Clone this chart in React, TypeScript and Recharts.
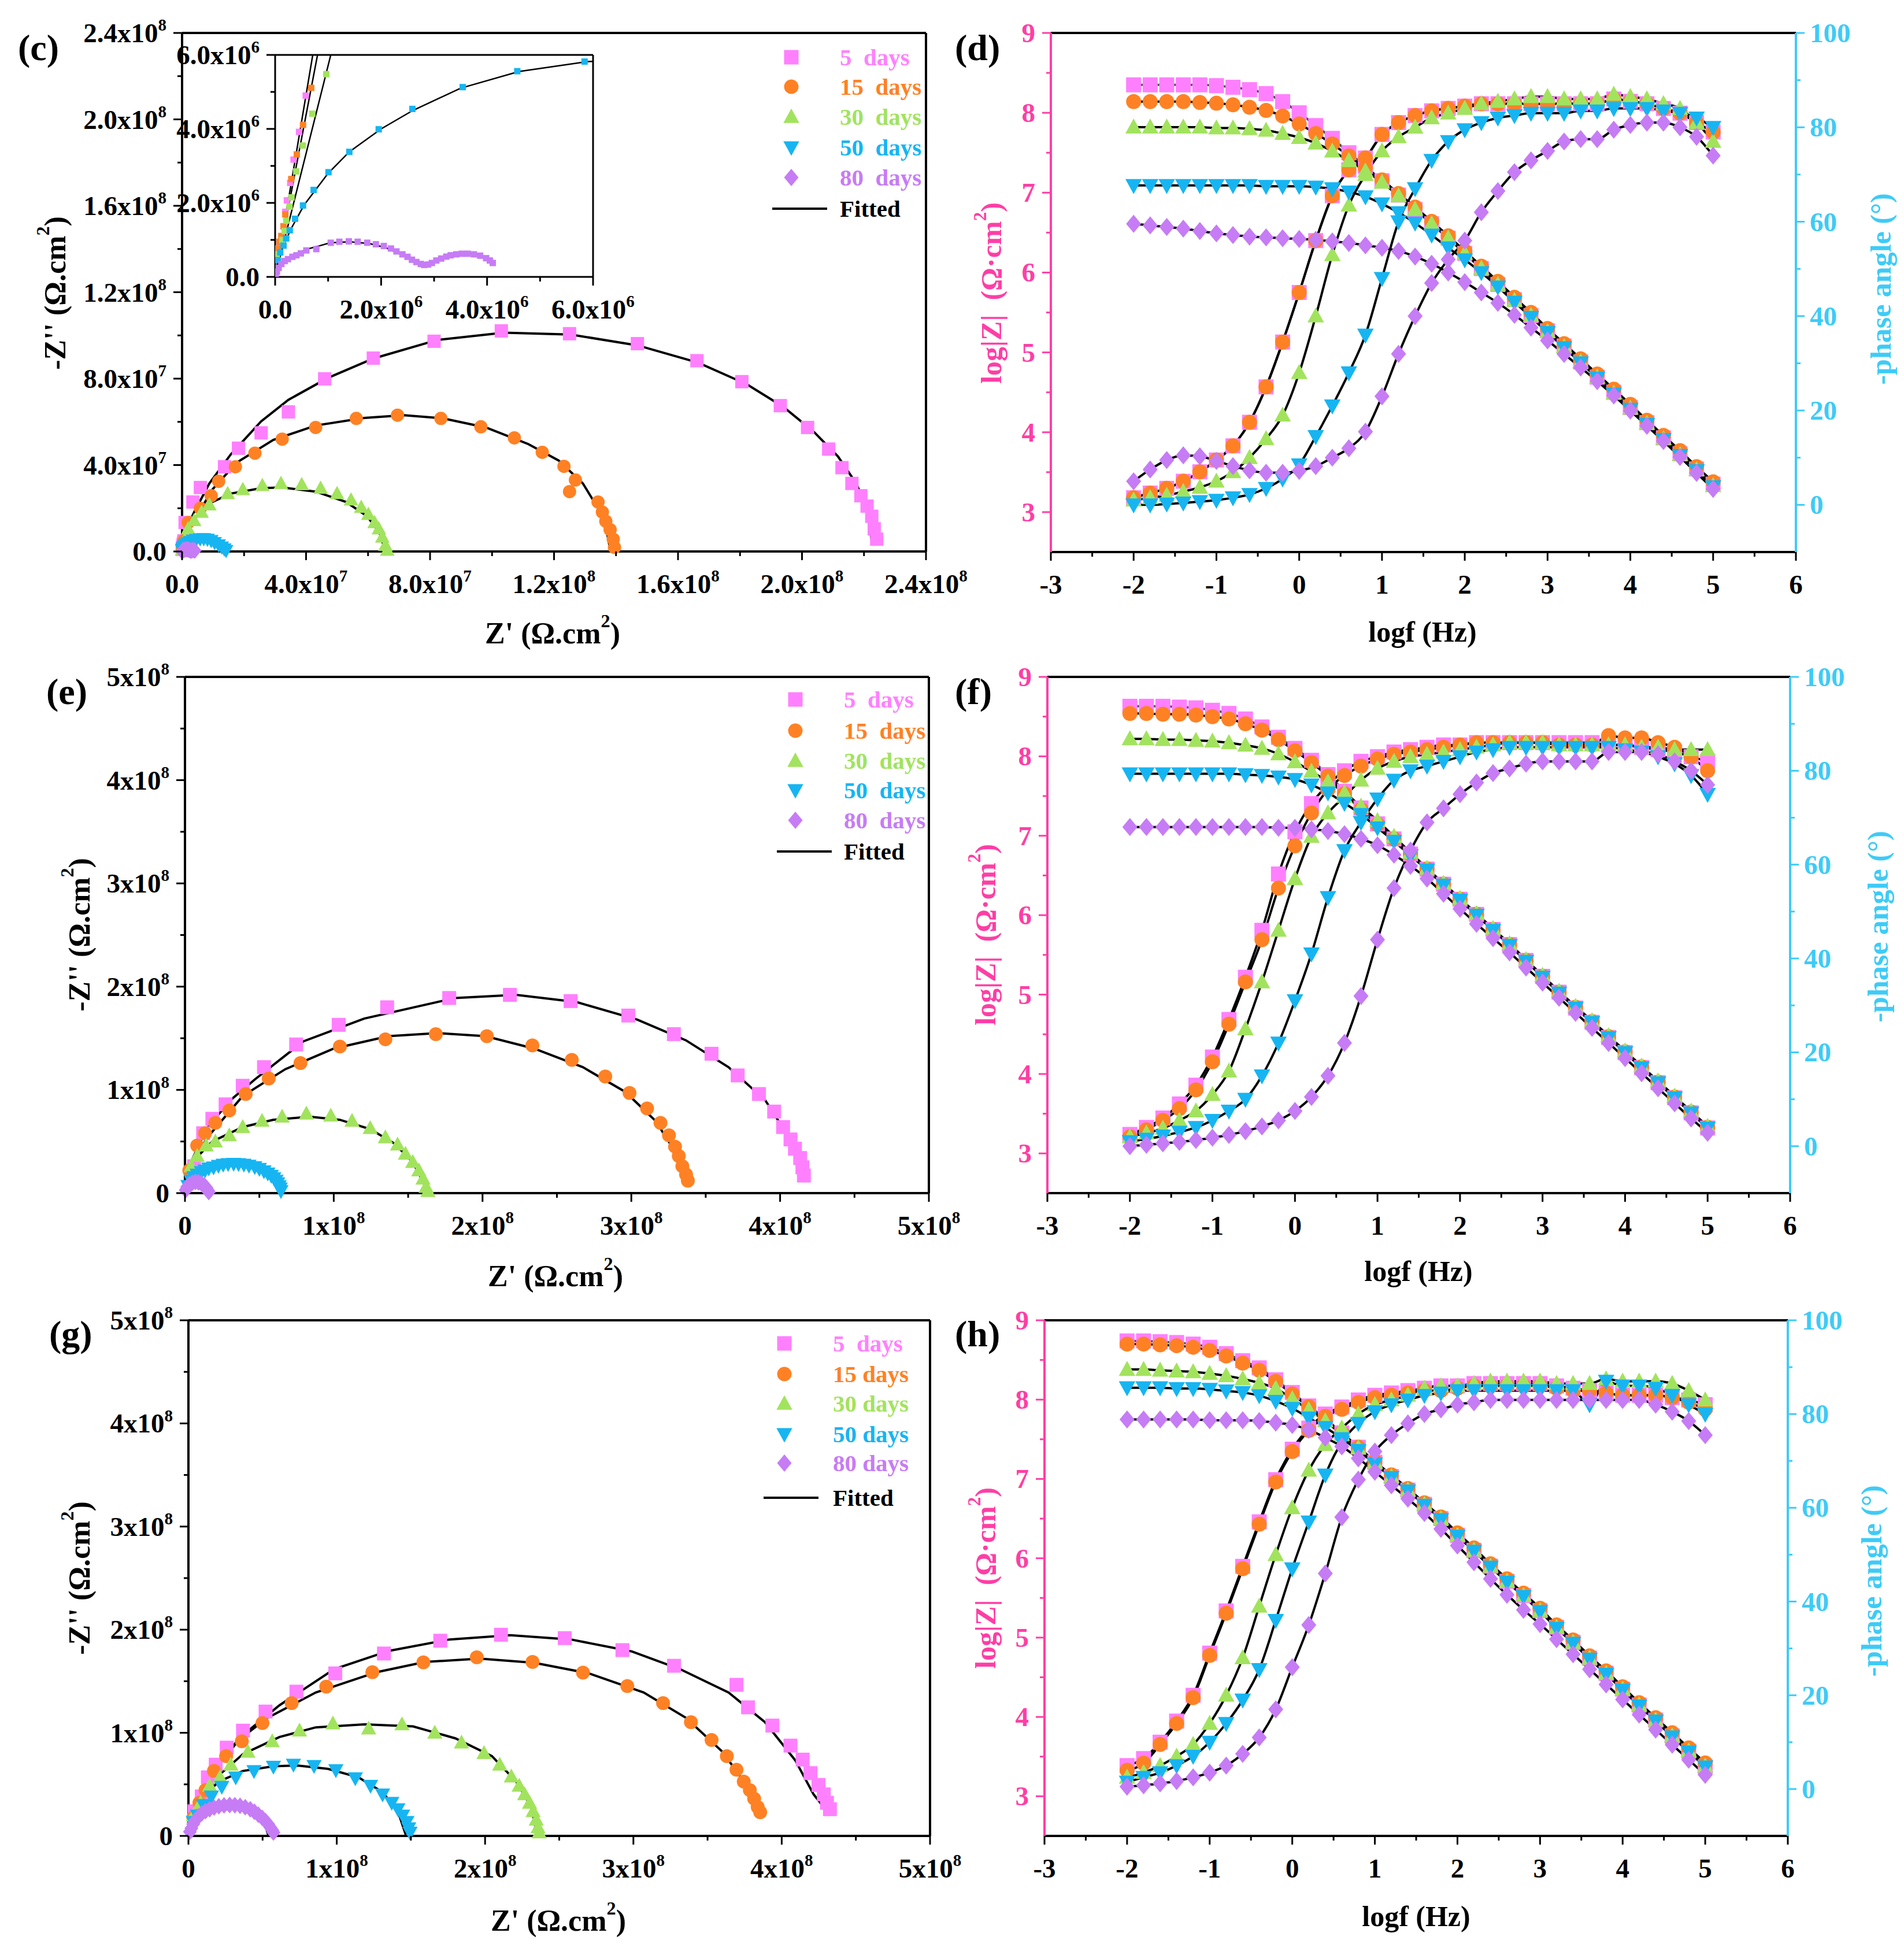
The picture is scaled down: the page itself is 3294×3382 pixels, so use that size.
import React from 'react';
import { ComposedChart, Scatter, Line, XAxis, YAxis, ReferenceLine } from 'recharts';

const FONT = '"Liberation Serif", "Times New Roman", Times, serif';
const PINK = '#FF80FF';
const ORANGE = '#FF8124';
const GREEN = '#A2E35E';
const CYAN = '#16B5F2';
const PURPLE = '#C67CF5';
const AXIS_PINK = '#FF3EA5';
const AXIS_CYAN = '#3DCBF7';

// legend categories
const daysWide = ['5  days', '15  days', '30  days', '50  days', '80  days'];
const daysNarrow = ['5  days', '15 days', '30 days', '50 days', '80 days'];

// ---------- Nyquist (c), values in 10^6 ohm.cm2 ----------
const c5 = [[0.084,0.92],[0.125,1.1],[0.159,1.37],[0.192,1.76],[0.221,2.07],[0.284,2.54],[0.347,3.17],[0.451,3.92],[0.577,4.9],[0.98,13.4],[3.5,22.9],[5.9,29.6],[13.7,39.2],[18.2,47.8],[25.5,54.9],[34.3,64.6],[46,79.9],[61.7,89.5],[81.3,97.3],[103,102.1],[125,100.8],[146.9,96.2],[166.1,88.3],[180.6,78.6],[193,67.5],[201.8,57.4],[208.6,47.4],[212.9,38.8],[216.1,31.5],[219,25.8],[221,21],[222.5,16.3],[223.3,10.5],[224.1,5.7]];
const c5Fit = [[0,0],[0.3,2.5],[0.71,6],[1.5,11],[3.9,18.2],[8.8,31.5],[15.7,44.9],[25.5,60.2],[34.3,70.2],[47,80.3],[61.7,89.3],[82.3,97.9],[103.8,101.3],[125.4,100.4],[146.9,95.4],[166.5,87.4],[182.2,77.4],[194,66.9],[203.8,55.4],[211.6,44],[217.5,31.5],[220.9,20.1],[222.4,5.7]];
const c15 = [[0.054,0.767],[0.084,0.95],[0.117,1.106],[0.159,1.367],[0.192,1.69],[0.305,2.645],[0.409,3.31],[0.526,4.11],[0.681,5.11],[1.96,13.4],[5.9,20],[9.4,25.8],[11.8,32.5],[17.2,39.2],[23.5,45.5],[32.3,52],[43.1,57.4],[56.2,61.6],[69.5,63.1],[83.5,61.6],[96.4,57.7],[107.2,52.6],[116.2,45.9],[123.2,39.4],[126.9,33.1],[125,27.7],[134.2,22.9],[135.6,18.2],[136.7,14],[138.1,10.1],[139.1,5.7],[139.5,1.9]];
const c15Fit = [[0,0],[0.8,6],[1.8,10.5],[3.9,14.3],[9.8,28.7],[17.6,41.1],[29.4,51.6],[43.1,58.3],[58.8,61.8],[71.5,63.1],[84.2,61.6],[98,57.4],[111.7,49.7],[121.5,42.1],[129.3,31.5],[134.2,20],[137.1,8.6],[138.1,1]];
const c30 = [[0.033,0.61],[0.138,1.0],[0.18,1.24],[0.209,1.52],[0.272,1.9],[0.309,2.15],[0.397,2.85],[0.522,3.55],[0.702,4.41],[0.965,5.48],[1.96,10.5],[3.9,14.3],[6.3,18.2],[8.8,21.6],[14.7,26.8],[19.6,28.7],[25.9,30.6],[31.9,31.5],[38.6,31],[44.7,29.3],[50,26.8],[54.5,23.9],[57.8,20.5],[60.1,17.2],[62.1,13.4],[63.5,10.5],[64.6,6.7],[65.6,2.9],[66.2,0.6]];
const c30Fit = [[0,0],[1.05,6],[2.9,13.4],[7.8,21.6],[15.7,26.8],[25.5,29.3],[32.3,29.6],[43.1,27.7],[52.9,22.9],[59.7,16.3],[63.7,8.6],[65.4,1]];
const c50 = [[0.054,0.454],[0.096,0.66],[0.159,0.845],[0.209,1.04],[0.276,1.26],[0.376,1.57],[0.526,1.93],[0.727,2.35],[1.007,2.83],[1.4,3.38],[1.955,3.99],[2.59,4.54],[3.54,5.13],[4.57,5.56],[5.84,5.82],[7.0,5.9],[8.2,5.6],[9.4,5.0],[10.5,4.1],[11.8,3.0],[12.8,2.0],[13.6,1.1],[14.2,0.4]];
const c50Fit = [[0,0],[0.05,0.4],[0.15,0.82],[0.3,1.3],[0.55,1.95],[1.0,2.8],[1.4,3.38],[2.0,4.0],[2.6,4.5],[3.5,5.1],[4.6,5.55],[5.9,5.82],[7.0,5.85],[8.2,5.55],[9.4,4.95],[10.5,4.0],[11.5,2.9],[12.4,1.8],[13.0,0.9],[13.3,0.2]];
const c80 = [[0.0125,0.0365],[0.033,0.141],[0.067,0.245],[0.117,0.35],[0.18,0.428],[0.242,0.48],[0.326,0.543],[0.401,0.584],[0.485,0.636],[0.589,0.715],[0.777,0.751],[1.049,0.923],[1.212,0.95],[1.391,0.96],[1.558,0.95],[1.738,0.923],[1.901,0.882],[2.051,0.835],[2.185,0.767],[2.29,0.689],[2.402,0.61],[2.498,0.543],[2.582,0.464],[2.666,0.402],[2.749,0.35],[2.812,0.323],[2.887,0.334],[2.958,0.376],[3.042,0.443],[3.134,0.496],[3.23,0.548],[3.313,0.584],[3.418,0.61],[3.522,0.626],[3.635,0.626],[3.752,0.61],[3.869,0.574],[3.982,0.506],[4.053,0.443],[4.107,0.376]];
const c80Fit = [[0,0],[0.054,0.193],[0.159,0.376],[0.326,0.558],[0.577,0.741],[0.785,0.819],[1.036,0.923],[1.412,0.95],[1.788,0.897],[2.081,0.793],[2.331,0.636],[2.54,0.48],[2.749,0.339],[2.854,0.297],[2.958,0.35],[3.125,0.48],[3.334,0.61],[3.585,0.647],[3.794,0.61],[4.003,0.506],[4.128,0.391]];

// ---------- Nyquist (e) ----------
const e5 = [[6.1,26],[12.2,58],[18.4,72],[27.3,86],[38.8,104],[53.1,122],[74.7,144],[103.3,163],[135.9,180],[177.6,189],[218.4,192],[259.2,186],[298,172],[328.6,154],[353.9,135],[371.5,114],[385.8,96],[396,79],[402,64],[407,52],[410,43],[413.5,34],[415,25],[416,17]];
const e5Fit = [[0,0],[5.3,34],[14.3,62],[30.6,90],[46.9,110],[79.6,147],[120.4,169],[181.6,189],[222.5,192],[263.3,185],[304,168],[336.7,148],[365.3,122],[390,90],[406,54],[414,18]];
const e15 = [[2.9,22],[8.2,46],[13.5,58],[20.4,68],[29.8,80],[40.8,96],[56.3,111],[77.6,126],[104.1,142],[134.7,149],[168.6,154],[202.9,152],[233.5,143],[260,129],[282.5,113],[298.8,97],[310.6,82],[319.6,68],[325.3,56],[329.4,45],[331.9,36],[334.3,26],[336.8,18],[338,12]];
const e15Fit = [[0,0],[6.1,34],[16.3,56],[38.8,94],[67.4,120],[100,140],[136.7,152],[169.4,155],[202,152],[234.7,140],[267.4,122],[296,98],[316.3,70],[328.6,42],[336,12]];
const e30 = [[4.1,26],[8.2,36],[14.3,46],[20.4,50],[29.8,56],[38.8,64],[51.8,70],[65.3,74],[81.6,77],[98,75],[112.3,70],[124.5,63],[134.7,54],[142.9,47],[148.2,38],[153.1,30],[157.2,22],[160,14],[162.1,6],[163.3,2]];
const e30Fit = [[0,0],[6.1,32],[18.4,50],[38.8,64],[59.2,71],[83.7,74],[104.1,71],[124.5,62],[140.8,48],[153.1,30],[160.4,10],[162.1,2]];
const e50 = [[2,7],[4.1,12],[6,15.5],[8.2,18],[11,20.5],[13.5,22],[16,24],[19.2,25],[22.5,26.5],[25.7,27.6],[29,28.2],[32.7,28.4],[36,28.2],[39.6,27.6],[43,26.6],[46.9,25.2],[50,23.5],[53.1,21.2],[55.7,19],[58,16.8],[59.7,14.5],[61.2,12],[62.3,9.5],[63.3,6.8],[64,4.5],[64.5,2]];
const e50Fit = [[0,0],[3,10],[8,17],[15,23],[22,26.5],[30.6,28],[38,27.5],[46,25],[53,20.5],[58,15],[61,9],[62.5,2]];
const e80 = [[0.5,3],[1.5,6],[3,8.5],[5,10],[7,10.8],[9,10.5],[11,9.5],[13,7.5],[14.5,5],[15.5,2.5],[16,1]];
const e80Fit = [[0,0],[2,4],[4,5.6],[6,6],[8,5.6],[10,4.4],[12,2.6],[13.5,0.5]];

// ---------- Nyquist (g) ----------
const g5 = [[4.1,23.9],[9,38.3],[13.1,56.8],[18.4,69.1],[25.8,85.6],[36.8,102.1],[52,120.6],[72.8,139.9],[99,157.6],[131.8,176.9],[169.8,189.3],[210.7,195.1],[253.7,191.8],[292.6,180.2],[327.4,165],[369.5,146.5],[377.3,124.7],[393.7,107],[405.9,87.6],[414.1,74],[419.4,60.9],[424.8,49.4],[428.4,40.3],[430.5,32.1],[432.5,25.9]];
const g5Fit = [[0,0],[8.2,38.3],[20.5,69.1],[36.8,97.9],[61.4,126.7],[98.2,161.7],[135,179.4],[176,190.5],[216.9,194.6],[257.8,190.5],[298.7,179],[331.5,161.7],[364.2,139.1],[388.7,110.3],[409.2,73.2],[421.5,40.3],[430.5,23.9]];
const g15 = [[3.3,17.7],[7.4,32.1],[11.5,44.4],[17.2,63],[25.4,77.4],[36,91.8],[49.9,109.5],[69.6,128.8],[92.9,144.8],[124,158.8],[158.4,168.3],[194.4,173.2],[232,168.7],[266,158.4],[295.9,145.3],[320,128.8],[338.8,110.3],[352.7,93],[363,77.4],[369.5,64.2],[374.4,52.7],[378.5,44.4],[381.4,36.2],[383.8,28],[385.5,23]];
const g15Fit = [[0,0],[6.1,34.2],[16.4,63],[32.7,91.8],[53.2,114.4],[85.9,139.1],[126.9,158.8],[159.6,168.7],[196.4,172],[233.2,167.9],[270.1,157.6],[306.9,139.1],[335.5,114.4],[360.1,81.5],[376.5,48.6],[385.5,19.8]];
const g30 = [[3.3,19.8],[8.2,32.1],[14.3,48.6],[21.3,56.8],[28.6,69.1],[40.1,81.5],[56.5,91.8],[74.9,102.1],[97.4,109],[121.5,104.1],[144,108.2],[166.1,100],[184.1,90.5],[199.3,80.2],[209.9,69.1],[217.7,57.6],[223,48.6],[226.7,40.3],[230,32.1],[232.4,23.9],[234.5,15.6],[235.7,8.2],[236.5,3.3]];
const g30Fit = [[0,0],[8.2,34.2],[20.5,58.8],[36.8,79.4],[61.4,95.9],[85.9,105.3],[118.7,108.2],[151.4,106.2],[180,94.6],[204.6,77.4],[221,52.7],[231.2,28],[234.5,5.3]];
const g50 = [[3.3,13.6],[6.1,19.8],[10.2,30],[15.5,38.3],[22.5,47.7],[31.9,56.8],[44.2,63],[57.3,67.1],[70.8,69.1],[84.7,67.9],[99.4,63.8],[112.5,56],[122.8,48.6],[130.9,40.3],[137.1,32.1],[141.2,25.9],[144.4,19.8],[147.3,13.6],[148.5,7.4],[149.4,3.3]];
const g50Fit = [[0,0],[8.2,36.2],[20.5,52.7],[36.8,63],[57.3,67.5],[73.7,68.3],[94.1,65],[114.6,56.8],[130.9,42.4],[141.2,23.9],[146.5,1.2]];
const g80 = [[1,4],[2,7.4],[3.2,11.5],[4.9,15.6],[6.8,18.8],[9,21.8],[11.5,24],[14.3,25.9],[17.3,27.5],[20.5,28.8],[24,29.6],[27.8,30],[31.3,29.8],[34.8,29.2],[38.3,27.8],[41.7,25.9],[44.5,23.4],[47.1,20.6],[49.7,17.6],[52,14.4],[53.8,11.3],[55.2,8.2],[56.5,5.6],[57.3,3.3]];
const g80Fit = [[0,0],[4.1,13.6],[12.3,21.8],[24.6,25.9],[32.7,25.9],[40.9,23],[47.1,16.5],[52.4,7.4],[54,0]];

// ---------- Bode, shared frequency grid ----------
const logF = [-2,-1.8,-1.6,-1.4,-1.2,-1,-0.8,-0.6,-0.4,-0.2,0,0.2,0.4,0.6,0.8,1,1.2,1.4,1.6,1.8,2,2.2,2.4,2.6,2.8,3,3.2,3.4,3.6,3.8,4,4.2,4.4,4.6,4.8,5];

// (d)
const dZ5 = [8.35,8.35,8.35,8.35,8.35,8.34,8.32,8.29,8.24,8.14,8.0,7.84,7.68,7.50,7.33,7.15,6.97,6.79,6.61,6.43,6.24,6.05,5.85,5.66,5.46,5.27,5.08,4.88,4.69,4.50,4.31,4.12,3.93,3.73,3.54,3.35];
const dZ15 = [8.14,8.14,8.14,8.14,8.13,8.12,8.10,8.07,8.03,7.96,7.86,7.74,7.61,7.46,7.31,7.16,6.99,6.82,6.64,6.46,6.27,6.08,5.89,5.69,5.50,5.30,5.11,4.92,4.73,4.54,4.35,4.15,3.96,3.77,3.57,3.38];
const dZ30 = [7.82,7.82,7.82,7.82,7.82,7.81,7.81,7.80,7.78,7.74,7.69,7.62,7.52,7.40,7.27,7.13,6.96,6.79,6.61,6.43,6.24,6.05,5.85,5.65,5.46,5.26,5.07,4.88,4.69,4.49,4.30,4.11,3.92,3.72,3.53,3.33];
const dZ50 = [7.09,7.09,7.09,7.09,7.09,7.09,7.09,7.09,7.08,7.08,7.08,7.07,7.05,7.01,6.95,6.86,6.75,6.62,6.47,6.31,6.16,6.00,5.82,5.63,5.44,5.25,5.06,4.87,4.68,4.48,4.29,4.10,3.91,3.71,3.52,3.32];
const dZ80 = [6.61,6.59,6.57,6.55,6.52,6.49,6.47,6.45,6.44,6.43,6.42,6.41,6.39,6.37,6.34,6.31,6.27,6.20,6.11,6.00,5.88,5.75,5.62,5.47,5.31,5.15,4.98,4.81,4.64,4.46,4.27,4.08,3.89,3.69,3.49,3.29];
const dP5 = [1.5,2.5,3.5,5,7,9.5,12.5,17.5,25,34.5,45,56,65.5,71,73.5,78.5,81,82.5,83.5,84,84.5,85,85,85,85,85,85,85,85,86,85.5,85,84,83,81,79];
const dP15 = [1.5,2.5,3.5,5,7,9.5,12.5,17.5,25,34.5,45,56,65.5,71,73.5,78.5,81,82.5,83.5,84,84.5,85,85,85,85,85,85,85,85,86,85.5,85,84,83,81,79];
const dP30 = [1,1.5,2,2.8,3.7,5,7,10,14,19,28,40,53,63.5,70,75,78,80,82,83,84,85,85.5,86,86.5,86.5,86,86,86,87,86.5,86,85,84,81,77];
const dP50 = [0,0,0.2,0.4,0.7,1,1.5,2.2,3.5,5.5,8.5,14.5,21,28,36,48,60,67,73,77,79.5,81,82,82.5,83,83,83,83.5,83.5,84,84,84,83.5,83,82,80];
const dP80 = [5,7.5,9.5,10.5,10.3,9.3,8.2,7.3,6.8,6.8,7.2,8.2,10,12,15.5,23,32,40,47,52,56,62,66.5,70.5,73,75,77,77.5,77.5,79.5,80.5,81,81,80,78,74];

// (f)
const fZ5 = [8.63,8.63,8.63,8.62,8.61,8.58,8.54,8.47,8.37,8.24,8.10,7.95,7.77,7.56,7.35,7.15,6.96,6.77,6.58,6.39,6.20,6.01,5.82,5.63,5.43,5.23,5.03,4.83,4.65,4.46,4.27,4.08,3.89,3.70,3.51,3.32];
const fZ15 = [8.54,8.54,8.53,8.53,8.52,8.50,8.47,8.41,8.33,8.21,8.07,7.92,7.75,7.53,7.33,7.14,6.96,6.77,6.58,6.39,6.20,6.01,5.82,5.63,5.43,5.23,5.03,4.84,4.66,4.47,4.28,4.09,3.90,3.71,3.52,3.33];
const fZ30 = [8.22,8.22,8.21,8.21,8.20,8.19,8.17,8.14,8.10,8.03,7.93,7.81,7.68,7.54,7.37,7.19,6.99,6.79,6.59,6.40,6.21,6.02,5.83,5.64,5.44,5.24,5.04,4.85,4.67,4.48,4.29,4.10,3.91,3.72,3.53,3.34];
const fZ50 = [7.78,7.78,7.78,7.78,7.78,7.78,7.78,7.77,7.76,7.74,7.71,7.64,7.54,7.41,7.27,7.10,6.93,6.75,6.57,6.38,6.19,6.00,5.81,5.62,5.42,5.22,5.02,4.83,4.65,4.46,4.27,4.08,3.89,3.70,3.51,3.32];
const fZ80 = [7.11,7.11,7.11,7.11,7.11,7.11,7.11,7.11,7.11,7.10,7.10,7.08,7.06,7.02,6.96,6.88,6.76,6.62,6.46,6.27,6.08,5.89,5.71,5.53,5.34,5.15,4.96,4.77,4.58,4.39,4.20,4.01,3.82,3.63,3.44,3.26];
const fP5 = [2.5,4,6,9,13,19,27,36,46,58,67,73,77,80,82,83,84,84.5,85,85.5,85.5,86,86,86,86,86,86,86,86,85.5,85.5,85,84.5,84,83,82];
const fP15 = [2,3.5,5.5,8,12,18,26,35,44,55,64,71,76,79,81,82.5,83.5,84,84.5,85,85.5,86,86,86,86,86,85.5,85.5,85.5,87.5,87,87,86,85,83,80];
const fP30 = [2,2.8,3.8,5.5,7.5,11,16,25,35,46,57,66,71,74.5,78,80.5,82,83,83.5,84,84.5,85,85.5,86,86,86,85.5,85.5,85.5,85.5,85.5,85,85,84.5,84.5,84.5];
const fP50 = [1,1.5,2.2,3,4,5.5,7.5,10,15,22,31,41,53,63,69,74,78,80,81,82,83,84,84.5,85,85,85,85,85,85,85,84.5,84,83,81.5,79,75];
const fP80 = [0,0.3,0.6,0.9,1.3,1.8,2.4,3.2,4.2,5.5,7.5,10.5,15,22,32,44,55,63,69,72,75,77.5,79.5,80.5,81.5,82,82,82,82,84,84,84,83.5,82,80,77];

// (h)
const hZ5 = [8.74,8.74,8.73,8.72,8.70,8.66,8.58,8.49,8.40,8.25,8.09,7.92,7.76,7.58,7.40,7.21,7.03,6.86,6.68,6.50,6.29,6.10,5.90,5.71,5.53,5.34,5.13,4.94,4.74,4.55,4.35,4.15,3.96,3.76,3.57,3.37];
const hZ15 = [8.70,8.70,8.69,8.68,8.66,8.62,8.55,8.46,8.37,8.23,8.07,7.91,7.75,7.58,7.40,7.22,7.05,6.88,6.70,6.52,6.32,6.13,5.93,5.74,5.56,5.37,5.16,4.97,4.77,4.58,4.38,4.18,3.99,3.80,3.61,3.42];
const hZ30 = [8.38,8.38,8.37,8.36,8.35,8.33,8.30,8.26,8.21,8.14,8.01,7.87,7.73,7.56,7.39,7.21,7.03,6.86,6.68,6.50,6.29,6.10,5.90,5.71,5.53,5.34,5.13,4.94,4.74,4.55,4.35,4.15,3.96,3.76,3.57,3.38];
const hZ50 = [8.15,8.15,8.15,8.14,8.14,8.13,8.11,8.09,8.05,7.98,7.89,7.77,7.65,7.51,7.36,7.19,7.02,6.85,6.67,6.49,6.28,6.09,5.89,5.70,5.52,5.33,5.12,4.93,4.73,4.54,4.34,4.14,3.95,3.75,3.56,3.37];
const hZ80 = [7.75,7.75,7.75,7.75,7.75,7.74,7.74,7.74,7.73,7.71,7.68,7.62,7.52,7.41,7.26,7.09,6.92,6.75,6.57,6.37,6.16,5.95,5.74,5.54,5.35,5.17,4.98,4.79,4.60,4.41,4.22,4.03,3.84,3.65,3.46,3.27];
const hP5 = [5,6.5,10,14.5,20,29,38,47.5,57,66,72.5,77,80,81.5,83,84,84.5,85,85.5,86,86,86.5,86.5,86.5,86.5,86.5,86,85.5,85,84.5,84,84,84,83.5,83,82];
const hP15 = [4,5.5,9.5,14,19.5,28.5,37.5,47,56.5,65.5,72,76.5,79.5,81,82.5,83.5,84,84.5,85,85,85.5,86,86,86,86,86,85.5,85,85,84.5,84,84,84,83.5,82.5,81];
const hP30 = [2.5,3.5,5,7,9.5,14,20,28,39,50,60,68,73.5,77,80,82,83,84,85.5,86,86,86.5,87,87,87,87,86.5,86.5,86.5,87.5,87,87,87,86.5,85,83];
const hP50 = [1.5,2.5,3.5,5,7,10,14,19,25.5,36,47,57,67,74,78,80.5,82,83,84,84.5,85,85,85,85,85,85,85,85,82,87,86,86,85.5,84,82,80];
const hP80 = [0.5,0.8,1.2,1.7,2.5,3.5,5,7.5,11,17,26,35,46,58,66,72,75.5,78,80,81,82,82.5,83,83,83,83,83,83,83,83,83,83,82,80.5,78.5,75.5];

// ---------- ticks ----------
const cMajor = [0, 40, 80, 120, 160, 200, 240];
const cMinor = [20, 60, 100, 140, 180, 220];
const cLabels = [['0.0', ''], ['4.0x10', '7'], ['8.0x10', '7'], ['1.2x10', '8'], ['1.6x10', '8'], ['2.0x10', '8'], ['2.4x10', '8']];
const egMajor = [0, 100, 200, 300, 400, 500];
const egMinor = [50, 150, 250, 350, 450];
const egLabels = [['0', ''], ['1x10', '8'], ['2x10', '8'], ['3x10', '8'], ['4x10', '8'], ['5x10', '8']];
const insMajor = [0, 2, 4, 6];
const insMinor = [1, 3, 5];
const insLabels = [['0.0', ''], ['2.0x10', '6'], ['4.0x10', '6'], ['6.0x10', '6']];
const fMajor = [-3, -2, -1, 0, 1, 2, 3, 4, 5, 6];
const fMinor = [-2.5, -1.5, -0.5, 0.5, 1.5, 2.5, 3.5, 4.5, 5.5];
const fLabels = fMajor.map((v) => [String(v), '']);
const zMajor = [3, 4, 5, 6, 7, 8, 9];
const zMinor = [3.5, 4.5, 5.5, 6.5, 7.5, 8.5];
const zLabels = zMajor.map((v) => [String(v), '']);
const pMajor = [0, 20, 40, 60, 80, 100];
const pMinor = [10, 30, 50, 70, 90];
const pLabels = pMajor.map((v) => [String(v), '']);

const STYLE = [
  { color: PINK, kind: 'square' },
  { color: ORANGE, kind: 'circle' },
  { color: GREEN, kind: 'up' },
  { color: CYAN, kind: 'down' },
  { color: PURPLE, kind: 'diamond' },
];

const toPts = (arr: number[][]) => arr.map(([x, y]) => ({ x, y }));
const bodePts = (vals: number[]) => logF.map((x, i) => ({ x, y: vals[i] }));

function Marker({ cx, cy, kind, color, size }: any) {
  if (cx == null || cy == null) return null;
  const h = size / 2;
  if (kind === 'square') return <rect x={cx - h} y={cy - h} width={size} height={size} fill={color} />;
  if (kind === 'circle') return <circle cx={cx} cy={cy} r={h} fill={color} />;
  if (kind === 'up')
    return <polygon points={`${cx},${cy - h * 1.15} ${cx + h * 1.1},${cy + h * 0.85} ${cx - h * 1.1},${cy + h * 0.85}`} fill={color} />;
  if (kind === 'down')
    return <polygon points={`${cx},${cy + h * 1.15} ${cx + h * 1.1},${cy - h * 0.85} ${cx - h * 1.1},${cy - h * 0.85}`} fill={color} />;
  return <polygon points={`${cx},${cy - h * 1.2} ${cx + h},${cy} ${cx},${cy + h * 1.2} ${cx - h},${cy}`} fill={color} />;
}

function SciText({ x, y, label, anchor, color, size }: any) {
  return (
    <text x={x} y={y} textAnchor={anchor} fill={color} fontFamily={FONT} fontWeight="bold" fontSize={size}>
      <tspan>{label[0]}</tspan>
      {label[1] ? <tspan dy={-size * 0.42} fontSize={size * 0.62}>{label[1]}</tspan> : null}
    </text>
  );
}

const makeTick = (side: string, majors: number[], labels: string[][], color: string, size = 47) => (props: any) => {
  const { x, y, payload } = props;
  const i = majors.findIndex((m) => Math.abs(m - payload.value) < 1e-6);
  const len = i >= 0 ? 15 : 8;
  if (side === 'left')
    return (
      <g>
        <line x1={x - len} y1={y} x2={x} y2={y} stroke={color} strokeWidth={3} />
        {i >= 0 && <SciText x={x - 27} y={y + 16} anchor="end" label={labels[i]} color={color} size={size} />}
      </g>
    );
  if (side === 'right')
    return (
      <g>
        <line x1={x} y1={y} x2={x + len} y2={y} stroke={color} strokeWidth={3} />
        {i >= 0 && <SciText x={x + 24} y={y + 16} anchor="start" label={labels[i]} color={color} size={size} />}
      </g>
    );
  return (
    <g>
      <line x1={x} y1={y} x2={x} y2={y + len} stroke={color} strokeWidth={3} />
      {i >= 0 && <SciText x={x} y={y + 72} anchor="middle" label={labels[i]} color={color} size={size} />}
    </g>
  );
};

const N_LM = 330, N_TM = 60, N_RM = 90, N_BM = 140;

function NyquistChart({ plot, max, major, minor, labels, points, fits, size, lineW, squares, clip, axisW }: any) {
  const ticks = [...major, ...minor].sort((a: number, b: number) => a - b);
  return (
    <div style={{ position: 'absolute', left: plot.x - N_LM, top: plot.y - N_TM }}>
      <ComposedChart width={plot.w + N_LM + N_RM} height={plot.h + N_TM + N_BM} margin={{ top: N_TM, right: N_RM, bottom: 0, left: 0 }}>
        <XAxis type="number" dataKey="x" domain={[0, max]} ticks={ticks} interval={0} height={N_BM} tickSize={0} tickMargin={0}
          tickLine={false} axisLine={{ stroke: '#000', strokeWidth: axisW }} tick={makeTick('bottom', major, labels, '#000')} allowDataOverflow={clip} />
        <YAxis type="number" dataKey="y" domain={[0, max]} ticks={ticks} interval={0} width={N_LM} tickSize={0} tickMargin={0}
          tickLine={false} axisLine={{ stroke: '#000', strokeWidth: axisW }} tick={makeTick('left', major, labels, '#000')} allowDataOverflow={clip} />
        <ReferenceLine y={max} stroke="#000" strokeWidth={axisW} />
        <ReferenceLine x={max} stroke="#000" strokeWidth={axisW} />
        {points.map((arr: number[][], i: number) => (
          <Scatter key={'s' + i} data={toPts(arr)} dataKey="y" isAnimationActive={false}
            shape={(p: any) => <Marker cx={p.cx} cy={p.cy} kind={squares ? 'square' : STYLE[i].kind} color={STYLE[i].color} size={size} />} />
        ))}
        {fits.map((arr: number[][], i: number) => (
          <Line key={'l' + i} data={toPts(arr)} dataKey="y" type="linear" stroke="#000" strokeWidth={lineW} dot={false} activeDot={false} isAnimationActive={false} />
        ))}
      </ComposedChart>
    </div>
  );
}

const B_LM = 330, B_RM = 230, B_TM = 60, B_BM = 140;
const BODE_MARK = 26;

function BodeChart({ plot, zs, ps }: any) {
  const xt = [...fMajor, ...fMinor].sort((a, b) => a - b);
  const zt = [...zMajor, ...zMinor].sort((a, b) => a - b);
  const pt = [...pMajor, ...pMinor].sort((a, b) => a - b);
  return (
    <div style={{ position: 'absolute', left: plot.x - B_LM, top: plot.y - B_TM }}>
      <ComposedChart width={plot.w + B_LM + B_RM} height={plot.h + B_TM + B_BM} margin={{ top: B_TM, right: 0, bottom: 0, left: 0 }}>
        <XAxis type="number" dataKey="x" domain={[-3, 6]} ticks={xt} interval={0} height={B_BM} tickSize={0} tickMargin={0}
          tickLine={false} axisLine={{ stroke: '#000', strokeWidth: 4 }} tick={makeTick('bottom', fMajor, fLabels, '#000')} />
        <YAxis yAxisId="z" type="number" dataKey="y" domain={[2.5, 9]} ticks={zt} interval={0} width={B_LM} tickSize={0} tickMargin={0}
          tickLine={false} axisLine={{ stroke: AXIS_PINK, strokeWidth: 4 }} tick={makeTick('left', zMajor, zLabels, AXIS_PINK)} />
        <YAxis yAxisId="p" orientation="right" type="number" dataKey="y" domain={[-10, 100]} ticks={pt} interval={0} width={B_RM} tickSize={0} tickMargin={0}
          tickLine={false} axisLine={{ stroke: AXIS_CYAN, strokeWidth: 4 }} tick={makeTick('right', pMajor, pLabels, AXIS_CYAN)} />
        <ReferenceLine yAxisId="z" y={9} stroke="#000" strokeWidth={4} />
        {zs.map((vals: number[], i: number) => [
          <Scatter key={'z' + i} yAxisId="z" data={bodePts(vals)} dataKey="y" isAnimationActive={false}
            shape={(p: any) => <Marker cx={p.cx} cy={p.cy} kind={STYLE[i].kind} color={STYLE[i].color} size={BODE_MARK} />} />,
          <Scatter key={'p' + i} yAxisId="p" data={bodePts(ps[i])} dataKey="y" isAnimationActive={false}
            shape={(p: any) => <Marker cx={p.cx} cy={p.cy} kind={STYLE[i].kind} color={STYLE[i].color} size={BODE_MARK} />} />,
        ])}
        {zs.map((vals: number[], i: number) => [
          <Line key={'lz' + i} yAxisId="z" data={bodePts(vals)} dataKey="y" type="monotone" stroke={i === 0 ? '#4d4d4d' : '#000'} strokeWidth={4} dot={false} activeDot={false} isAnimationActive={false} />,
          <Line key={'lp' + i} yAxisId="p" data={bodePts(ps[i])} dataKey="y" type="monotone" stroke="#000" strokeWidth={4} dot={false} activeDot={false} isAnimationActive={false} />,
        ])}
      </ComposedChart>
    </div>
  );
}

function Title({ x, y, rotate, color = '#000', parts, size = 50 }: any) {
  return (
    <text x={x} y={y} textAnchor="middle" dominantBaseline="central" fill={color} fontFamily={FONT} fontWeight="bold" fontSize={size}
      style={{ whiteSpace: 'pre' }} transform={rotate ? `rotate(-90 ${x} ${y})` : undefined}>
      <tspan>{parts[0]}</tspan>
      {parts[1] ? <tspan dy={-size * 0.4} fontSize={size * 0.62}>{parts[1]}</tspan> : null}
      {parts[2] ? <tspan dy={size * 0.4}>{parts[2]}</tspan> : null}
    </text>
  );
}

function LegendBlock({ mx, tx, rows, labels, lx1, lx2 }: any) {
  return (
    <g>
      {labels.map((lab: string, i: number) => (
        <g key={i}>
          <Marker cx={mx} cy={rows[i]} kind={STYLE[i].kind} color={STYLE[i].color} size={25} />
          <text x={tx} y={rows[i]} dominantBaseline="central" fill={STYLE[i].color} fontFamily={FONT} fontWeight="bold" fontSize={41} style={{ whiteSpace: 'pre' }}>{lab}</text>
        </g>
      ))}
      <line x1={lx1} x2={lx2} y1={rows[5]} y2={rows[5]} stroke="#000" strokeWidth={4} />
      <text x={tx} y={rows[5]} dominantBaseline="central" fill="#000" fontFamily={FONT} fontWeight="bold" fontSize={41}>Fitted</text>
    </g>
  );
}

const NX = ["Z' (Ω.cm", '2', ')'];
const NY = ["-Z'' (Ω.cm", '2', ')'];
const BX = ['logf (Hz)'];
const BZ = ['log|Z|  (Ω·cm', '2', ')'];
const BP = ['-phase angle (°)'];

export default function App() {
  return (
    <div style={{ position: 'absolute', left: 0, top: 0, width: 3294, height: 3382, background: '#fff', overflow: 'hidden' }}>
      <NyquistChart plot={{ x: 315, y: 57, w: 1287, h: 897 }} max={240} major={cMajor} minor={cMinor} labels={cLabels}
        points={[c5, c15, c30, c50, c80]} fits={[c5Fit, c15Fit, c30Fit, c50Fit, c80Fit]} size={23} lineW={4} axisW={4} />
      <NyquistChart plot={{ x: 476, y: 95, w: 550, h: 384 }} max={6} major={insMajor} minor={insMinor} labels={insLabels}
        points={[c5, c15, c30, c50, c80]} fits={[c5Fit, c15Fit, c30Fit, c50Fit, c80Fit]} size={11} lineW={2.5} axisW={3} squares clip />
      <NyquistChart plot={{ x: 320, y: 1171, w: 1287, h: 893 }} max={500} major={egMajor} minor={egMinor} labels={egLabels}
        points={[e5, e15, e30, e50, e80]} fits={[e5Fit, e15Fit, e30Fit, e50Fit, e80Fit]} size={24} lineW={4} axisW={4} />
      <NyquistChart plot={{ x: 326, y: 2284, w: 1283, h: 892 }} max={500} major={egMajor} minor={egMinor} labels={egLabels}
        points={[g5, g15, g30, g50, g80]} fits={[g5Fit, g15Fit, g30Fit, g50Fit, g80Fit]} size={24} lineW={4} axisW={4} />
      <BodeChart plot={{ x: 1818, y: 57, w: 1289, h: 898 }} zs={[dZ5, dZ15, dZ30, dZ50, dZ80]} ps={[dP5, dP15, dP30, dP50, dP80]} />
      <BodeChart plot={{ x: 1812, y: 1171, w: 1285, h: 893 }} zs={[fZ5, fZ15, fZ30, fZ50, fZ80]} ps={[fP5, fP15, fP30, fP50, fP80]} />
      <BodeChart plot={{ x: 1807, y: 2284, w: 1286, h: 892 }} zs={[hZ5, hZ15, hZ30, hZ50, hZ80]} ps={[hP5, hP15, hP30, hP50, hP80]} />
      <svg width={3294} height={3382} style={{ position: 'absolute', left: 0, top: 0, pointerEvents: 'none' }}>
        {[['(c)', 31, 82], ['(d)', 1652, 82], ['(e)', 80, 1196], ['(f)', 1652, 1196], ['(g)', 85, 2307], ['(h)', 1652, 2307]].map(([t, x, y]: any) => (
          <text key={t} x={x} y={y} dominantBaseline="central" fontFamily={FONT} fontWeight="bold" fontSize={64} fill="#000">{t}</text>
        ))}
        <Title x={956} y={1095} parts={NX} size={52} />
        <Title x={95} y={507} parts={NY} size={52} rotate />
        <Title x={961} y={2207} parts={NX} size={52} />
        <Title x={137} y={1617} parts={NY} size={52} rotate />
        <Title x={966} y={3322} parts={NX} size={52} />
        <Title x={137} y={2730} parts={NY} size={52} rotate />
        <Title x={2461} y={1093} parts={BX} />
        <Title x={1715} y={507} parts={BZ} color={AXIS_PINK} rotate />
        <Title x={3254} y={500} parts={BP} color={AXIS_CYAN} rotate />
        <Title x={2454} y={2199} parts={BX} />
        <Title x={1705} y={1617} parts={BZ} color={AXIS_PINK} rotate />
        <Title x={3249} y={1603} parts={BP} color={AXIS_CYAN} rotate />
        <Title x={2450} y={3315} parts={BX} />
        <Title x={1705} y={2730} parts={BZ} color={AXIS_PINK} rotate />
        <Title x={3238} y={2735} parts={BP} color={AXIS_CYAN} rotate />
        <LegendBlock mx={1369} tx={1453} rows={[99, 150, 202, 255, 307, 361]} labels={daysWide} lx1={1336} lx2={1431} />
        <LegendBlock mx={1376} tx={1460} rows={[1210, 1264, 1316, 1367, 1419, 1473]} labels={daysWide} lx1={1344} lx2={1439} />
        <LegendBlock mx={1357} tx={1441} rows={[2324, 2377, 2428, 2481, 2531, 2591]} labels={daysNarrow} lx1={1321} lx2={1416} />
      </svg>
    </div>
  );
}
